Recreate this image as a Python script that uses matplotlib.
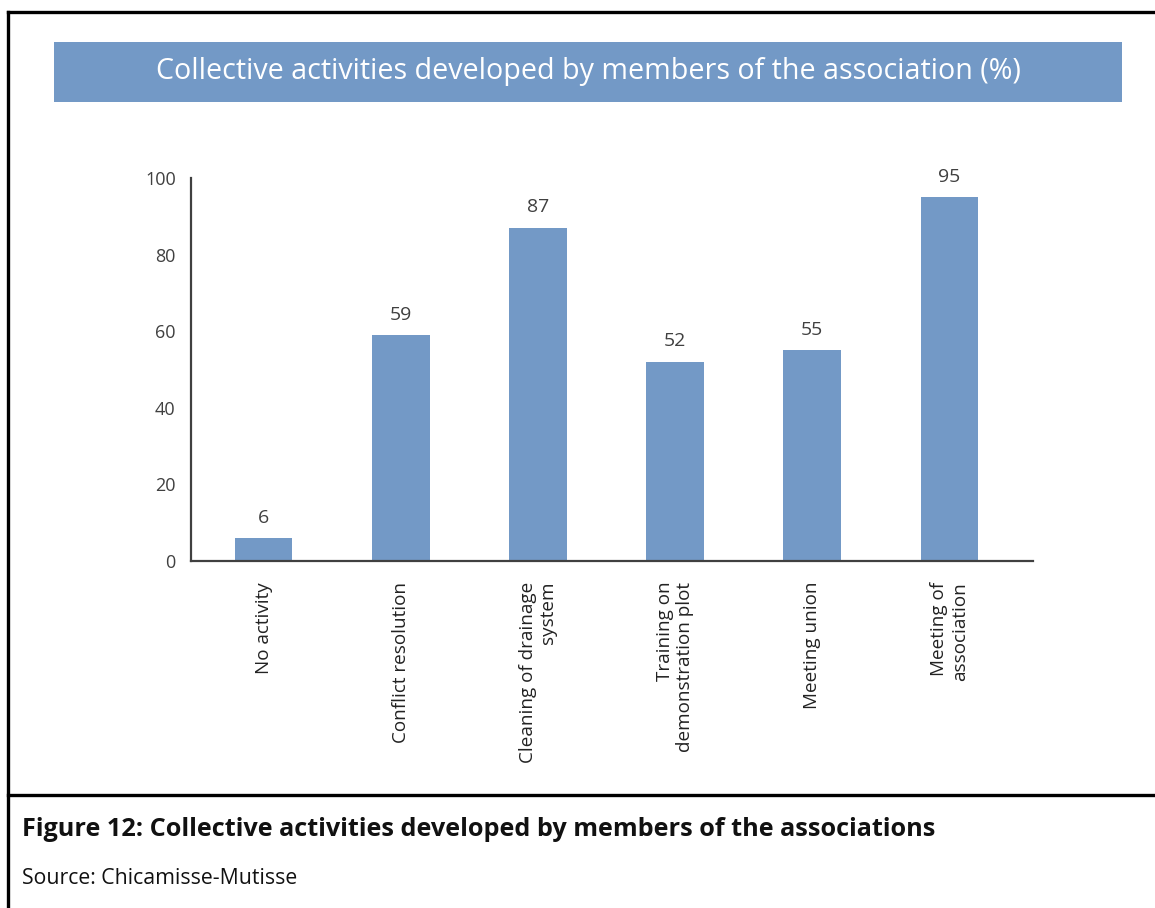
import matplotlib
matplotlib.use("Agg")
import matplotlib.pyplot as plt
from matplotlib.patches import Rectangle
from matplotlib.lines import Line2D

plt.rcParams["font.family"] = ["Open Sans", "DejaVu Sans"]

# 활동별 응답 비율(%)
activities = ["No activity", "Conflict resolution", "Cleaning of drainage\nsystem",
              "Training on\ndemonstration plot", "Meeting union", "Meeting of\nassociation"]
shares = [6, 59, 87, 52, 55, 95]
yticks = [0, 20, 40, 60, 80, 100]

W, H = 1155, 908
BLUE = "#7399C6"
INK = "#404040"

fig = plt.figure(figsize=(W / 100, H / 100), dpi=100)

def fx(px):
    return px / W

def fy(py):
    return 1 - py / H

# 바깥 테두리(왼쪽, 위) + 캡션 구분선
for xs, ys in [((8, 8), (12, H)), ((8, W), (12, 12)), ((8, W), (795, 795))]:
    fig.add_artist(Line2D([fx(x) for x in xs], [fy(y) for y in ys],
                          color="black", lw=2.4, solid_capstyle="projecting"))

# 제목 배너
fig.add_artist(Rectangle((fx(54), fy(102)), fx(1122) - fx(54), fy(42) - fy(102),
                         facecolor=BLUE, edgecolor="none"))
fig.text(fx(588), fy(72), "Collective activities developed by members of the association (%)",
         ha="center", va="center", color="white", fontsize=20.6)

# 막대그래프
ax = fig.add_axes([fx(191), fy(561), fx(1033) - fx(191), fy(178) - fy(561)])
x = range(len(activities))
ax.bar(x, shares, width=0.42, color=BLUE, zorder=2)
for xi, v in zip(x, shares):
    ax.text(xi, v + 3, f"{v}", ha="center", va="bottom", fontsize=14, color=INK)

ax.set_xlim(-0.53, 5.61)
ax.set_ylim(0, 100)
ax.set_yticks(yticks)
ax.tick_params(axis="y", length=0, pad=11, labelsize=13, labelcolor=INK)
ax.set_xticks(list(x))
ax.set_xticklabels(activities, rotation=90, ha="center", va="top",
                   multialignment="right", fontsize=13.6, color="#222222")
ax.tick_params(axis="x", length=0, pad=15)
for s in ("top", "right"):
    ax.spines[s].set_visible(False)
for s in ("left", "bottom"):
    ax.spines[s].set_color(INK)
    ax.spines[s].set_linewidth(1.6)

# 캡션
fig.text(fx(22), fy(830), "Figure 12: Collective activities developed by members of the associations",
         ha="left", va="center", fontsize=18.2, fontweight="bold", color="#111111")
fig.text(fx(22), fy(879), "Source: Chicamisse-Mutisse",
         ha="left", va="center", fontsize=15.3, color="#111111")

fig.savefig("out.png", dpi=100, facecolor="white")
